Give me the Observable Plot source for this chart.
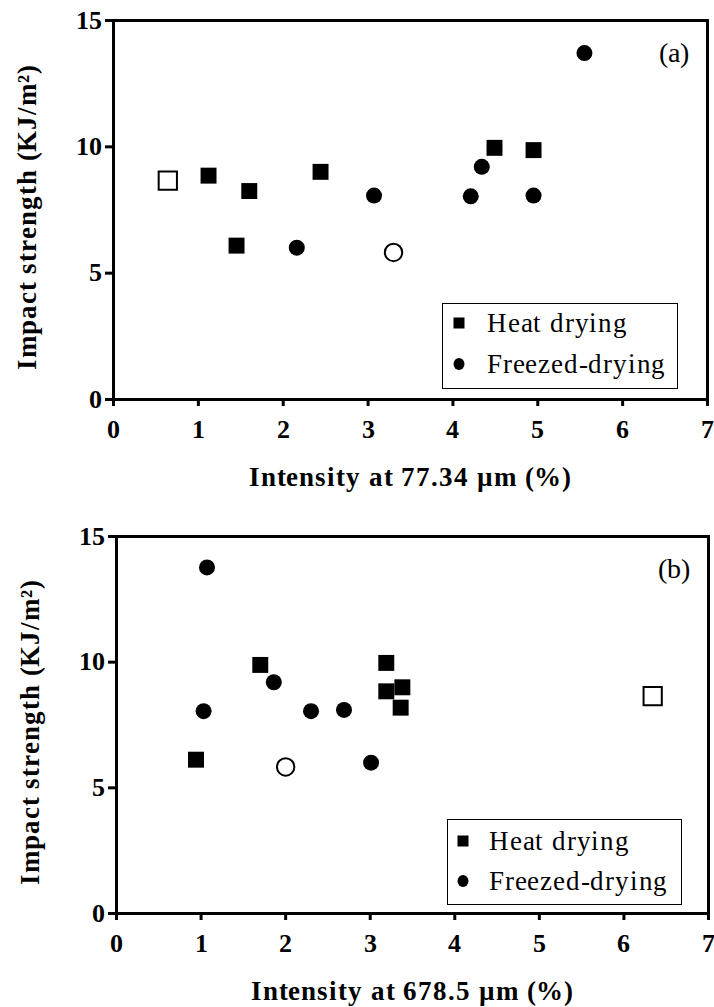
<!DOCTYPE html>
<html><head><meta charset="utf-8">
<script src="https://cdn.jsdelivr.net/npm/d3@7"></script>
<script src="https://cdn.jsdelivr.net/npm/@observablehq/plot@0.6"></script>
<style>
@font-face{font-family:"RefSerif";font-weight:400;src:local("Liberation Serif"),local("LiberationSerif"),local("LiberationSerif-Regular"),local("Liberation Serif Regular"),local("Tinos"),local("Times New Roman"),local("DejaVu Serif"),local("DejaVuSerif"),local("Noto Serif"),local("NotoSerif-Regular");}
@font-face{font-family:"RefSerif";font-weight:700;src:local("Liberation Serif Bold"),local("LiberationSerif-Bold"),local("Tinos Bold"),local("Times New Roman Bold"),local("DejaVu Serif Bold"),local("DejaVuSerif-Bold"),local("Noto Serif Bold"),local("NotoSerif-Bold");}
body{margin:0;background:#fff;}
#wrap{position:relative;width:714px;height:1007px;overflow:hidden;}
.panel{position:absolute;left:0;}
.legend{position:absolute;border:1.5px solid #000;background:#fff;box-sizing:border-box;font-family:"RefSerif","Liberation Serif","DejaVu Serif",serif;font-size:27px;letter-spacing:0.8px;color:#000;}
.legend svg{position:absolute;}
.legend span{position:absolute;line-height:1;transform:translateY(-50%);white-space:nowrap;}
.title-text{letter-spacing:0.9px;}
</style></head><body><div id="wrap"></div>
<script>
// ---- data ----
const xTicks = [0, 1, 2, 3, 4, 5, 6, 7];
const yTicks = [0, 5, 10, 15];
const seriesNames = ["Heat drying", "Freezed-drying"];

// panel (a): Intensity at 77.34 µm
const heatA_x = [1.12, 1.45, 1.60, 2.44, 4.49, 4.95];
const heatA_y = [8.86, 6.09, 8.25, 9.01, 9.96, 9.87];
const freezeA_x = [2.16, 3.07, 4.21, 4.34, 4.95, 5.55];
const freezeA_y = [6.01, 8.07, 8.04, 9.21, 8.07, 13.71];
const openSquareA_x = [0.64];
const openSquareA_y = [8.66];
const openCircleA_x = [3.30];
const openCircleA_y = [5.82];

// panel (b): Intensity at 678.5 µm
const heatB_x = [0.94, 1.70, 3.19, 3.19, 3.38, 3.36];
const heatB_y = [6.12, 9.89, 9.97, 8.84, 9.00, 8.19];
const freezeB_x = [1.07, 1.03, 1.86, 2.30, 2.69, 3.01];
const freezeB_y = [13.77, 8.05, 9.20, 8.05, 8.10, 6.00];
const openSquareB_x = [6.34];
const openSquareB_y = [8.65];
const openCircleB_x = [2.00];
const openCircleB_y = [5.83];

const yTitle = "Impact strength (KJ/m²)";
const xTitleA = "Intensity at 77.34 µm (%)";
const xTitleB = "Intensity at 678.5 µm (%)";

// ---- drawing ----
const zip = (xs, ys) => xs.map((x, i) => ({x, y: ys[i]}));
const FONT = '"RefSerif", "Liberation Serif", "DejaVu Serif", serif';

function panel(cfg) {
  return Plot.plot({
    width: 714, height: cfg.height,
    marginLeft: cfg.ml, marginRight: cfg.mr, marginTop: cfg.mt, marginBottom: cfg.mb,
    x: {domain: [0, 7], ticks: xTicks},
    y: {domain: [0, 15], ticks: yTicks},
    style: {fontFamily: FONT, fontSize: "26px", fontWeight: "bold", color: "#000", background: "transparent", overflow: "visible"},
    marks: [
      Plot.axisX(xTicks, {tickSize: 7, tickPadding: 13, strokeWidth: 3, label: null, fontSize: 26, fontWeight: "bold", fontFamily: FONT}),
      Plot.axisY(yTicks, {tickSize: 8, tickPadding: 4, strokeWidth: 3, label: null, fontSize: 26, fontWeight: "bold", fontFamily: FONT}),
      Plot.frame({strokeWidth: 3, stroke: "#000"}),
      Plot.dot(zip(cfg.heatX, cfg.heatY), {x: "x", y: "y", symbol: "square", r: 9, fill: "#000"}),
      Plot.dot(zip(cfg.freezeX, cfg.freezeY), {x: "x", y: "y", symbol: "circle", r: 8, fill: "#000"}),
      Plot.dot(zip(cfg.osX, cfg.osY), {x: "x", y: "y", symbol: "square", r: 10.3, fill: "#fff", stroke: "#000", strokeWidth: 2}),
      Plot.dot(zip(cfg.ocX, cfg.ocY), {x: "x", y: "y", symbol: "circle", r: 8.7, fill: "#fff", stroke: "#000", strokeWidth: 2}),
      Plot.text([cfg.xTitle], {text: d => d, frameAnchor: "bottom", dy: 78, textAnchor: "middle", lineAnchor: "middle", fontSize: 27, fontWeight: "bold", fontFamily: FONT, className: "title-text"}),
      Plot.text([yTitle], {text: d => d, frameAnchor: "left", dx: -86, dy: 7, rotate: -90, textAnchor: "middle", lineAnchor: "middle", fontSize: 27, fontWeight: "bold", fontFamily: FONT, className: "title-text"}),
      Plot.text([cfg.tag], {text: d => d, frameAnchor: "top-right", dx: -19, dy: 33, textAnchor: "end", lineAnchor: "middle", fontSize: 28, fontWeight: "normal", fontFamily: FONT})
    ]
  });
}

const wrap = document.getElementById("wrap");

function place(node, top) {
  node.classList.add("panel");
  node.style.top = top + "px";
  wrap.appendChild(node);
}

place(panel({height: 500, ml: 113, mr: 7, mt: 20, mb: 101,
  heatX: heatA_x, heatY: heatA_y, freezeX: freezeA_x, freezeY: freezeA_y,
  osX: openSquareA_x, osY: openSquareA_y, ocX: openCircleA_x, ocY: openCircleA_y,
  xTitle: xTitleA, tag: "(a)"}), 0);

place(panel({height: 507, ml: 116, mr: 6, mt: 36, mb: 94,
  heatX: heatB_x, heatY: heatB_y, freezeX: freezeB_x, freezeY: freezeB_y,
  osX: openSquareB_x, osY: openSquareB_y, ocX: openCircleB_x, ocY: openCircleB_y,
  xTitle: xTitleB, tag: "(b)"}), 500);

function legend(left, top, w, h, mx, tx, rows) {
  const d = document.createElement("div");
  d.className = "legend";
  Object.assign(d.style, {left: left + "px", top: top + "px", width: w + "px", height: h + "px"});
  const ns = "http://www.w3.org/2000/svg";
  seriesNames.forEach((name, i) => {
    const cy = rows[i];
    const s = document.createElementNS(ns, "svg");
    s.setAttribute("width", 14); s.setAttribute("height", 14);
    s.style.left = (mx - 7) + "px"; s.style.top = (cy - 7) + "px";
    let m;
    if (i === 0) {
      m = document.createElementNS(ns, "rect");
      m.setAttribute("x", 1.5); m.setAttribute("y", 1.5); m.setAttribute("width", 11); m.setAttribute("height", 11);
    } else {
      m = document.createElementNS(ns, "ellipse");
      m.setAttribute("cx", 7); m.setAttribute("cy", 7); m.setAttribute("rx", 5.5); m.setAttribute("ry", 6);
    }
    m.setAttribute("fill", "#000");
    s.appendChild(m);
    d.appendChild(s);
    const t = document.createElement("span");
    t.textContent = name;
    t.style.left = tx + "px"; t.style.top = cy + "px";
    d.appendChild(t);
  });
  wrap.appendChild(d);
}

legend(442, 303, 236, 86, 16, 44, [19, 60]);
legend(447, 819, 235, 86, 15, 41, [21, 61]);
</script></body></html>
